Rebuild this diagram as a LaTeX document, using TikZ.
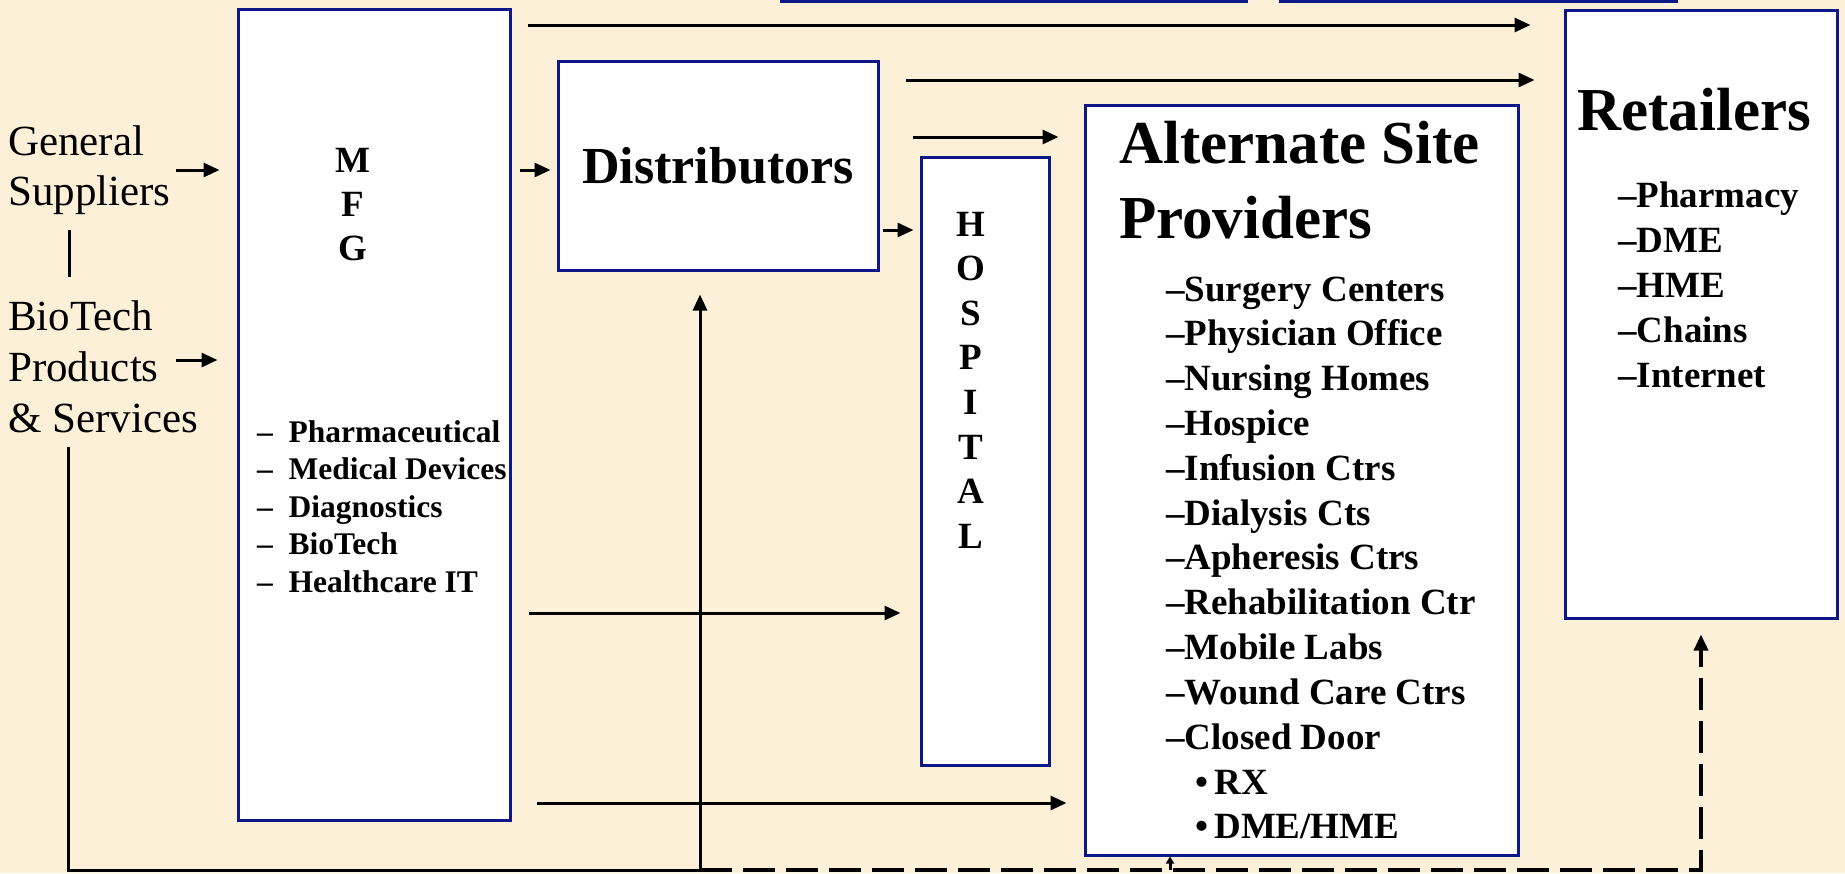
\documentclass[tikz,border=0pt]{standalone}
\usepackage{fontspec}
\setmainfont{Liberation Serif}
\usetikzlibrary{arrows.meta}
\definecolor{paper}{RGB}{253,240,217}
\definecolor{navy}{RGB}{12,24,135}
\tikzset{
  box/.style={draw=navy, line width=3pt, fill=white, inner sep=0pt},
  link/.style={line width=3pt},
  flow/.style={line width=3pt, -{Triangle[length=16pt,width=14pt]}},
  dashflow/.style={line width=3.5pt, dash pattern=on 32pt off 11pt, -{Triangle[length=16pt,width=14pt]}},
  tinyflow/.style={line width=3pt, -{Triangle[length=7pt,width=8pt]}},
  side/.style={font=\fontsize{43}{50}\selectfont, inner sep=0pt, anchor=base west},
  vletter/.style={font=\fontsize{37}{44}\bfseries\selectfont, inner sep=0pt, anchor=base},
  mfgitem/.style={font=\fontsize{31.5}{37}\bfseries\selectfont, inner sep=0pt, anchor=base west},
  title/.style={font=\fontsize{61}{70}\bfseries\selectfont, inner sep=0pt, anchor=base west},
  midtitle/.style={font=\fontsize{52}{60}\bfseries\selectfont, inner sep=0pt, anchor=base},
  item/.style={font=\fontsize{37}{44}\bfseries\selectfont, inner sep=0pt, anchor=base west},
}
\begin{document}
\begin{tikzpicture}[x=1pt,y=-1pt]
\useasboundingbox (0,0) rectangle (1845,873);
\clip (0,0) rectangle (1845,873);
\fill[paper] (0,0) rectangle (1845,873);

% boxes
\node[box, minimum width=465pt, minimum height=101pt] (topA) at (1013.5,-49.5) {};
\node[box, minimum width=396pt, minimum height=101pt] (topB) at (1478,-49.5) {};
\node[box, minimum width=272pt, minimum height=811pt] (mfg)  at (374,415) {};
\node[box, minimum width=320pt, minimum height=209pt] (dist) at (718,165.5) {};
\node[box, minimum width=128pt, minimum height=608pt] (hosp) at (985,461) {};
\node[box, minimum width=433pt, minimum height=750pt] (alt)  at (1301.5,480) {};
\node[box, minimum width=272pt, minimum height=608pt] (rt)   at (1701,314) {};

% suppliers on the left
\node[side] (gen)  at (8,155) {General};
\node[side] (sup)  at (8,205) {Suppliers};
\node[side] (bio)  at (8,330) {BioTech};
\node[side] (prod) at (8,381) {Products};
\node[side] (serv) at (8,432) {\& Services};

% manufacturers
\foreach \ch [count=\i from 0] in {M,F,G}
  \node[vletter] (mfg-\ch) at (353,172+44*\i) {\ch};
\foreach \t [count=\i from 0] in {Pharmaceutical, Medical Devices, Diagnostics, BioTech, Healthcare IT}
  \node[mfgitem] (mfgitem-\i) at (257,442+37.5*\i) {–\hspace{0.5em}\t};

% distributors
\node[midtitle] (distlabel) at (718,183) {Distributors};

% hospital
\foreach \ch [count=\i from 0] in {H,O,S,P,I,T,A,L}
  \node[vletter] (hosp-\i) at (971,236+44.6*\i) {\ch};

% alternate site providers
\node[title] (alt-t1) at (1119,163) {Alternate Site};
\node[title] (alt-t2) at (1119,238) {Providers};
\foreach \t [count=\i from 0] in {Surgery Centers, Physician Office, Nursing Homes, Hospice,
    Infusion Ctrs, Dialysis Cts, Apheresis Ctrs, Rehabilitation Ctr, Mobile Labs,
    Wound Care Ctrs, Closed Door}
  \node[item] (altitem-\i) at (1166,301+44.8*\i) {–\t};
\node[item] (alt-rx)  at (1195,794) {•\,RX};
\node[item] (alt-dme) at (1195,838.5) {•\,DME/HME};

% retailers
\node[title] (rt-t) at (1577,130) {Retailers};
\foreach \t [count=\i from 0] in {Pharmacy, DME, HME, Chains, Internet}
  \node[item] (rtitem-\i) at (1618,207+45*\i) {–\t};

% flows along the top
\draw[flow, shorten <=16pt, shorten >=33pt] (mfg.east |- 0,25) -- (rt.west |- 0,25);
\draw[flow, shorten <=26pt, shorten >=29pt] (dist.east |- 0,80) -- (rt.west |- 0,80);
\draw[flow, shorten <=33pt, shorten >=25pt] (dist.east |- 0,137) -- (alt.west |- 0,137);

% suppliers into manufacturing
\coordinate (genOut)  at (176,170);
\coordinate (prodOut) at (176,360);
\coordinate (tickTop) at (69,230);
\coordinate (tickBot) at (69,277);
\draw[flow, shorten >=17pt] (genOut) -- (mfg.west |- genOut);
\draw[flow, shorten >=19pt] (prodOut) -- (mfg.west |- prodOut);
\draw[link] (tickTop) -- (tickBot);

% manufacturing outputs
\draw[flow, shorten <=8pt, shorten >=6pt]   (mfg.east |- 0,170) -- (dist.west |- 0,170);
\draw[flow, shorten <=3pt, shorten >=6pt]   (dist.east |- 0,230) -- (hosp.west |- 0,230);
\draw[flow, shorten <=17pt, shorten >=19pt] (mfg.east |- 0,613) -- (hosp.west |- 0,613);
\draw[flow, shorten <=25pt, shorten >=17pt] (mfg.east |- 0,803) -- (alt.west |- 0,803);

% return routes along the bottom
\coordinate (src)  at (68,447);
\coordinate (junc) at (700,870);
\draw[flow, shorten >=23pt] (src) |- (junc) -- (dist.south -| junc);
\draw[dashflow, shorten >=15pt] (junc) -| (rt.south);
\draw[tinyflow] (junc -| 1170,0) -- (alt.south -| 1170,0);
\end{tikzpicture}
\end{document}
